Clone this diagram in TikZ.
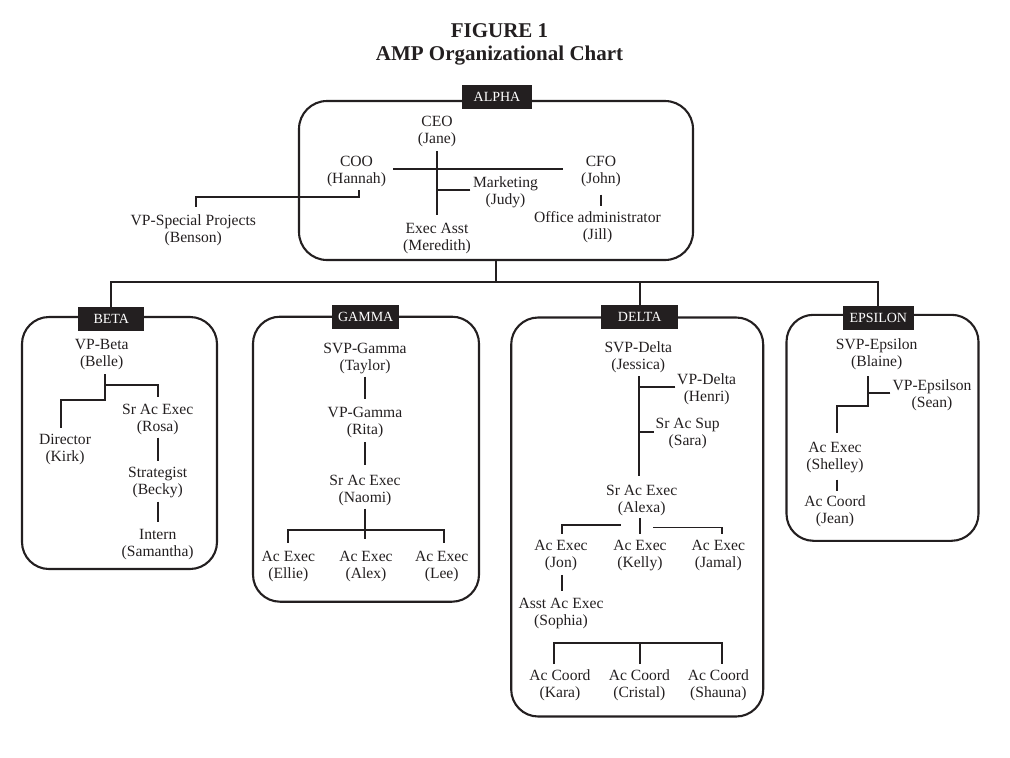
\documentclass[tikz,border=0pt]{standalone}
\usepackage{fontspec}
\setmainfont{Liberation Serif}
\usetikzlibrary{calc}
\definecolor{ink}{HTML}{231F20}
\newcommand{\tl}[2]{\strut #1\\\strut #2}
\begin{document}
\begin{tikzpicture}[x=1pt,y=-1pt,
  person/.style={align=center, inner sep=0pt, font=\fontsize{15.6}{17}\selectfont, text=ink},
  conn/.style={draw=ink, line width=1.8pt},
  unit/.style={draw=ink, line width=2.1pt, rounded corners=27pt, inner sep=0pt},
  tag/.style={fill=ink, text=white, inner sep=0pt, minimum height=24pt, font=\fontsize{14}{14}\selectfont},
  ttl/.style={align=center, inner sep=0pt, font=\fontsize{21}{23}\selectfont\bfseries, text=ink}]
\useasboundingbox (0,0) rectangle (1010,758);

% title
\node[ttl] (title) at (499.5,44) {FIGURE 1\\AMP Organizational Chart};

% unit boxes
\node[unit, minimum width=394pt, minimum height=159pt, rounded corners=28pt] (alpha) at (496,180.5) {};
\node[unit, minimum width=195pt, minimum height=252pt] (beta) at (119.5,443) {};
\node[unit, minimum width=226pt, minimum height=285pt] (gamma) at (366,459.2) {};
\node[unit, minimum width=252pt, minimum height=399pt] (delta) at (637.2,517) {};
\node[unit, minimum width=192pt, minimum height=226pt] (epsilon) at (882.5,427.8) {};

% tags
\node[tag, minimum width=70pt] (alphatag) at (497,97) {ALPHA};
\node[tag, minimum width=66pt] (betatag) at (111.3,318.7) {BETA};
\node[tag, minimum width=67pt] (gammatag) at (365.7,317.2) {GAMMA};
\node[tag, minimum width=77pt] (deltatag) at (639.7,317.2) {DELTA};
\node[tag, minimum width=71pt] (epsilontag) at (878.3,318) {EPSILON};

% bus
\coordinate (bus) at (0,282.3);
\draw[conn] (alpha.south) -- (alpha.south |- bus);
\draw[conn] (betatag.north) -- (betatag.north |- bus) -- (epsilontag.north |- bus) -- (epsilontag.north);
\draw[conn] (deltatag.north) -- (deltatag.north |- bus);

% ALPHA people
\node[person] (ceo) at (437,131.9) {\tl{CEO}{(Jane)}};
\node[person] (coo) at (356.5,172) {\tl{COO}{(Hannah)}};
\node[person] (mkt) at (505.5,192.3) {\tl{Marketing}{(Judy)}};
\node[person] (cfo) at (601,171.8) {\tl{CFO}{(John)}};
\node[person] (ea) at (437,238.1) {\tl{Exec Asst}{(Meredith)}};
\node[person] (oa) at (597.5,228) {\tl{Office administrator}{(Jill)}};
\node[person] (vpsp) at (193.3,230.1) {\tl{VP-Special Projects}{(Benson)}};

\draw[conn] ($(ceo.south)+(0,2)$) -- ($(ea.north)+(0,-6.4)$);
\draw[conn] ($(coo.east)+(7,-3)$) -- ($(cfo.west)+(-18,-2.8)$);
\draw[conn] ($(mkt.west)+(-2.5,-2.3)$) -- ($(ceo.south |- mkt.west)+(0,-2.3)$);
\draw[conn] ($(coo.south)+(2.2,1)$) -- ++(0,6.6) -| ($(vpsp.north)+(2.7,-6.1)$);
\draw[conn] ($(cfo.south)+(-0.3,5.6)$) -- ($(cfo.south |- oa.north)+(-0.3,-4.8)$);

% BETA people
\node[person] (vpb) at (101.7,354.6) {\tl{VP-Beta}{(Belle)}};
\node[person] (rosa) at (157.7,419.1) {\tl{Sr Ac Exec}{(Rosa)}};
\node[person] (kirk) at (65,449.6) {\tl{Director}{(Kirk)}};
\node[person] (becky) at (157.7,482.1) {\tl{Strategist}{(Becky)}};
\node[person] (intern) at (157.7,544.3) {\tl{Intern}{(Samantha)}};

\draw[conn] ($(vpb.south)+(3.3,2.2)$) -- ++(0,26) -| ($(kirk.north)+(-4,-4.8)$);
\draw[conn] ($(vpb.south)+(3.3,13.2)$) -| ($(rosa.north)+(0.6,-5.4)$);
\draw[conn] ($(rosa.south)+(0.6,1.2)$) -- ($(becky.north)+(0.6,-4.4)$);
\draw[conn] ($(becky.south)+(0.6,2.2)$) -- ($(intern.north)+(0.6,-4.7)$);

% GAMMA people
\node[person] (taylor) at (365,358.9) {\tl{SVP-Gamma}{(Taylor)}};
\node[person] (rita) at (365,422.6) {\tl{VP-Gamma}{(Rita)}};
\node[person] (naomi) at (365,490.3) {\tl{Sr Ac Exec}{(Naomi)}};
\node[person] (ellie) at (288.3,566.6) {\tl{Ac Exec}{(Ellie)}};
\node[person] (alex) at (366,566.6) {\tl{Ac Exec}{(Alex)}};
\node[person] (lee) at (441.7,566.6) {\tl{Ac Exec}{(Lee)}};

\draw[conn] ($(taylor.south)+(0,0.6)$) -- ($(rita.north)+(0,-6.5)$);
\draw[conn] ($(rita.south)+(0,2.3)$) -- ($(naomi.north)+(0,-8.1)$);
\draw[conn] ($(naomi.south)+(0,1)$) -- ($(naomi.south |- alex.north)+(0,-10.5)$);
\draw[conn] ($(ellie.north)+(0,-6.5)$) -- ++(0,-12.6) -| ($(lee.north)+(2,-6.5)$);

% DELTA people
\node[person] (jess) at (638.3,358) {\tl{SVP-Delta}{(Jessica)}};
\node[person] (henri) at (706.7,389.1) {\tl{VP-Delta}{(Henri)}};
\node[person] (sara) at (687.7,433.3) {\tl{Sr Ac Sup}{(Sara)}};
\node[person] (alexa) at (641.7,500.3) {\tl{Sr Ac Exec}{(Alexa)}};
\node[person] (jon) at (561,555.5) {\tl{Ac Exec}{(Jon)}};
\node[person] (kelly) at (640,555.5) {\tl{Ac Exec}{(Kelly)}};
\node[person] (jamal) at (718.3,555.5) {\tl{Ac Exec}{(Jamal)}};
\node[person] (sophia) at (561,613.3) {\tl{Asst Ac Exec}{(Sophia)}};
\node[person] (kara) at (560,685.6) {\tl{Ac Coord}{(Kara)}};
\node[person] (cristal) at (639.3,685.6) {\tl{Ac Coord}{(Cristal)}};
\node[person] (shauna) at (718.3,685.6) {\tl{Ac Coord}{(Shauna)}};

\draw[conn] ($(jess.south)+(0.7,0.9)$) -- ($(jess.south |- alexa.north)+(0.7,-7.1)$);
\draw[conn] ($(henri.west)+(-1.7,-2.4)$) -- ($(jess.south |- henri.west)+(0.7,-2.4)$);
\draw[conn] ($(sara.west)+(-1.9,-1)$) -- ($(jess.south |- sara.west)+(0.7,-1)$);
\draw[conn] ($(alexa.south)+(-2,0.9)$) -- ($(alexa.south |- kelly.north)+(-2,-4.8)$);
\draw[conn] ($(jon.north)+(1,-4.8)$) |- ($(alexa.south)+(-20.7,7.6)$);
\draw[conn] ($(alexa.south)+(11.6,9.9)$) -| ($(jamal.north)+(3.4,-4.8)$);
\draw[conn] ($(jon.south)+(0.7,2.2)$) -- ($(sophia.north)+(0.7,-4.7)$);
\draw[conn] ($(kara.north)+(-5.7,-4.4)$) -- ++(0,-21.3) -| ($(shauna.north)+(4,-4.4)$);
\draw[conn] ($(cristal.north)+(0.7,-4.4)$) -- ++(0,-21.3);

% EPSILON people
\node[person] (blaine) at (876.7,354.6) {\tl{SVP-Epsilon}{(Blaine)}};
\node[person] (sean) at (932,395.9) {\tl{VP-Epsilson}{(Sean)}};
\node[person] (shelley) at (835,457.4) {\tl{Ac Exec}{(Shelley)}};
\node[person] (jean) at (835,512) {\tl{Ac Coord}{(Jean)}};

\draw[conn] ($(blaine.south)+(-9,4.2)$) -- ++(0,30) -| ($(shelley.north)+(2.3,-7.1)$);
\draw[conn] ($(sean.west)+(-2.1,-3.2)$) -- ($(blaine.south |- sean.west)+(-9,-3.2)$);
\draw[conn] ($(shelley.south)+(2.3,4.9)$) -- ($(jean.north)+(2.3,-4.1)$);
\end{tikzpicture}
\end{document}
